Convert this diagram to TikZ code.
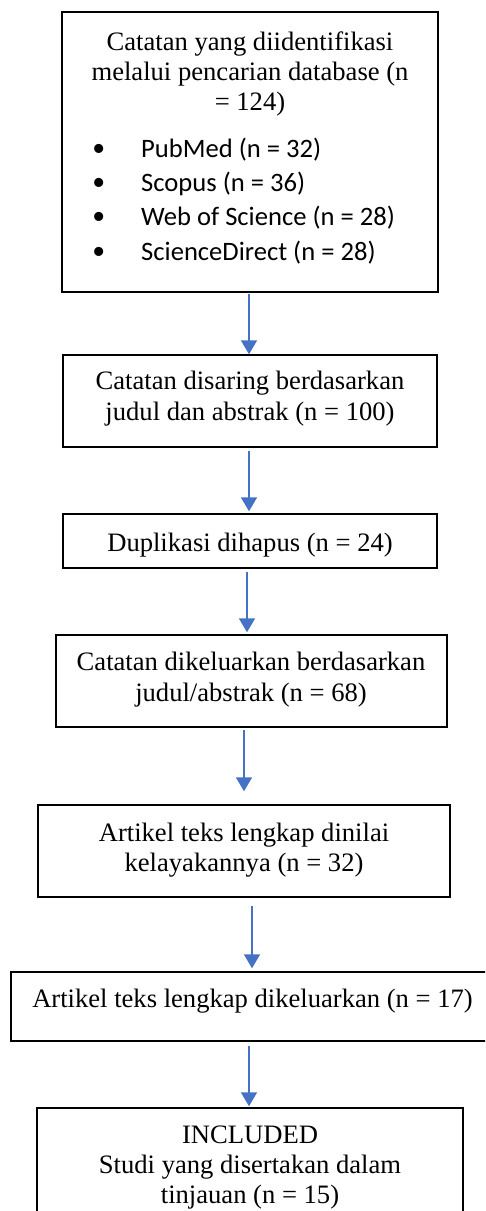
\documentclass[tikz,border=0pt]{standalone}
\usepackage{fontspec}
\setmainfont{Liberation Serif}
\newfontfamily\calfont{Carlito}
\usetikzlibrary{arrows.meta}
\definecolor{arrowblue}{HTML}{4472C4}
\newcommand{\bul}{\makebox[49pt][l]{\smash{\raisebox{-4pt}{\fontsize{38}{30}\selectfont •}}}}
\begin{document}
\begin{tikzpicture}[x=1pt,y=-1pt,
  box/.style={draw=black,line width=1.3pt,inner sep=0pt},
  txt/.style={inner sep=0pt,anchor=base,font=\fontsize{26.6}{30}\selectfont},
  lst/.style={inner sep=0pt,anchor=base west,font=\fontsize{26.6}{30}\selectfont},
  arr/.style={draw=arrowblue,line width=2.5pt,-{Triangle[width=15.7pt,length=14pt]}}
]
\useasboundingbox (0,0) rectangle (485,1211);
\clip (0,0) rectangle (485,1211);

% boxes
\node[box,minimum width=376pt,minimum height=280pt] (b1) at (250,152) {};
\node[box,minimum width=374pt,minimum height=92pt] (b2) at (250,401) {};
\node[box,minimum width=374pt,minimum height=54pt] (b3) at (250,541) {};
\node[box,minimum width=391pt,minimum height=92pt] (b4) at (251.5,681) {};
\node[box,minimum width=412pt,minimum height=92pt] (b5) at (244,851) {};
\node[box,minimum width=483pt,minimum height=69pt] (b6) at (252.5,1006.5) {};
\node[box,minimum width=426pt,minimum height=132pt] (b7) at (250,1174) {};

% box 1 text
\node[txt] (t1a) at (250,50) {Catatan yang diidentifikasi};
\node[txt] (t1b) at (250,80) {melalui pencarian database (n};
\node[txt] (t1c) at (250,110) {= 124)};
\node[lst] (l1) at (92,157) {\bul{\calfont PubMed (n = 32)}};
\node[lst] (l2) at (92,191.3) {\bul{\calfont Scopus (n = 36)}};
\node[lst] (l3) at (92,225.7) {\bul{\calfont Web of Science (n = 28)}};
\node[lst] (l4) at (92,260) {\bul{\calfont ScienceDirect (n = 28)}};

% box 2 text
\node[txt] (t2a) at (250,389) {Catatan disaring berdasarkan};
\node[txt] (t2b) at (250,420) {judul dan abstrak (n = 100)};

% box 3 text
\node[txt] (t3a) at (250,551) {Duplikasi dihapus (n = 24)};

% box 4 text
\node[txt] (t4a) at (251,670) {Catatan dikeluarkan berdasarkan};
\node[txt] (t4b) at (251,701) {judul/abstrak (n = 68)};

% box 5 text
\node[txt] (t5a) at (244,841) {Artikel teks lengkap dinilai};
\node[txt] (t5b) at (244,871) {kelayakannya (n = 32)};

% box 6 text
\node[txt] (t6a) at (252.5,1007) {Artikel teks lengkap dikeluarkan (n = 17)};

% box 7 text
\node[txt] (t7a) at (250,1143) {INCLUDED};
\node[txt] (t7b) at (250,1173) {Studi yang disertakan dalam};
\node[txt] (t7c) at (250,1203) {tinjauan (n = 15)};

% arrows
\draw[arr] ([xshift=-1pt,yshift=-1pt]b1.south) -- ([xshift=-1pt]b2.north);
\draw[arr] ([xshift=-1pt,yshift=-3pt]b2.south) -- ([xshift=-1pt,yshift=2pt]b3.north);
\draw[arr] ([xshift=-3pt,yshift=-3pt]b3.south) -- ([xshift=-4.5pt,yshift=2pt]b4.north);
\draw[arr] ([xshift=-7.5pt,yshift=-2pt]b4.south) -- ([yshift=13pt]b5.north);
\draw[arr] ([xshift=8pt,yshift=-8pt]b5.south) -- ([xshift=-0.5pt,yshift=3pt]b6.north);
\draw[arr] ([xshift=-3.5pt,yshift=-4pt]b6.south) -- ([xshift=-1pt,yshift=1pt]b7.north);
\end{tikzpicture}
\end{document}
